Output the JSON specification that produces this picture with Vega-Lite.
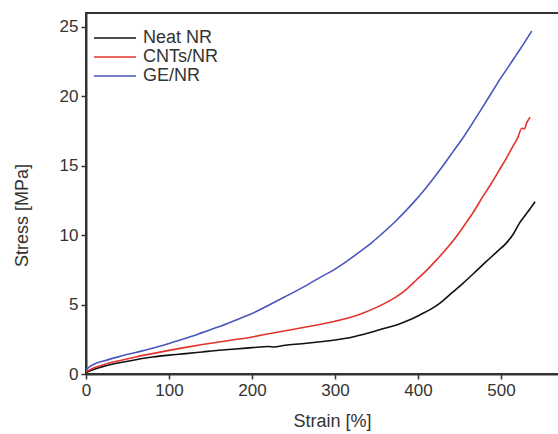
{
  "$schema": "https://vega.github.io/schema/vega-lite/v6.json",
  "width": 474,
  "height": 361,
  "autosize": {"type": "none"},
  "padding": {"left": 86, "top": 13, "right": 0, "bottom": 60},
  "background": "white",
  "config": {
    "font": "Liberation Sans",
    "view": {"stroke": "#333", "strokeWidth": 2},
    "axis": {"grid": false, "domainColor": "#333", "domainWidth": 2, "tickColor": "#333", "tickWidth": 1.5, "tickSize": 5, "labelFontSize": 17, "labelColor": "#333", "titleFontSize": 18, "titleFontWeight": "normal", "titleColor": "#333", "labelFont": "Liberation Sans", "titleFont": "Liberation Sans"}
  },
  "data": {"values": [
    {"s": "Neat NR", "x": 0, "y": 0.1},
    {"s": "Neat NR", "x": 10, "y": 0.35},
    {"s": "Neat NR", "x": 20, "y": 0.53},
    {"s": "Neat NR", "x": 40, "y": 0.81},
    {"s": "Neat NR", "x": 60, "y": 1.03},
    {"s": "Neat NR", "x": 80, "y": 1.22},
    {"s": "Neat NR", "x": 100, "y": 1.36},
    {"s": "Neat NR", "x": 120, "y": 1.47},
    {"s": "Neat NR", "x": 140, "y": 1.59},
    {"s": "Neat NR", "x": 160, "y": 1.71},
    {"s": "Neat NR", "x": 180, "y": 1.8},
    {"s": "Neat NR", "x": 200, "y": 1.9},
    {"s": "Neat NR", "x": 220, "y": 1.98},
    {"s": "Neat NR", "x": 226, "y": 1.95},
    {"s": "Neat NR", "x": 240, "y": 2.07},
    {"s": "Neat NR", "x": 260, "y": 2.18},
    {"s": "Neat NR", "x": 280, "y": 2.31},
    {"s": "Neat NR", "x": 300, "y": 2.45},
    {"s": "Neat NR", "x": 320, "y": 2.65},
    {"s": "Neat NR", "x": 340, "y": 2.95},
    {"s": "Neat NR", "x": 360, "y": 3.3},
    {"s": "Neat NR", "x": 375, "y": 3.55},
    {"s": "Neat NR", "x": 390, "y": 3.9},
    {"s": "Neat NR", "x": 402, "y": 4.25},
    {"s": "Neat NR", "x": 415, "y": 4.65},
    {"s": "Neat NR", "x": 426, "y": 5.09},
    {"s": "Neat NR", "x": 440, "y": 5.8},
    {"s": "Neat NR", "x": 454, "y": 6.53},
    {"s": "Neat NR", "x": 468, "y": 7.3},
    {"s": "Neat NR", "x": 482, "y": 8.09},
    {"s": "Neat NR", "x": 495, "y": 8.8},
    {"s": "Neat NR", "x": 506, "y": 9.41},
    {"s": "Neat NR", "x": 515, "y": 10.1},
    {"s": "Neat NR", "x": 522, "y": 10.85},
    {"s": "Neat NR", "x": 530, "y": 11.5},
    {"s": "Neat NR", "x": 535, "y": 11.9},
    {"s": "Neat NR", "x": 541, "y": 12.4},
    {"s": "CNTs/NR", "x": 0, "y": 0.15},
    {"s": "CNTs/NR", "x": 10, "y": 0.45},
    {"s": "CNTs/NR", "x": 20, "y": 0.65},
    {"s": "CNTs/NR", "x": 40, "y": 0.96},
    {"s": "CNTs/NR", "x": 60, "y": 1.23},
    {"s": "CNTs/NR", "x": 80, "y": 1.47},
    {"s": "CNTs/NR", "x": 100, "y": 1.7},
    {"s": "CNTs/NR", "x": 120, "y": 1.92},
    {"s": "CNTs/NR", "x": 140, "y": 2.12},
    {"s": "CNTs/NR", "x": 160, "y": 2.3},
    {"s": "CNTs/NR", "x": 180, "y": 2.48},
    {"s": "CNTs/NR", "x": 200, "y": 2.67},
    {"s": "CNTs/NR", "x": 220, "y": 2.9},
    {"s": "CNTs/NR", "x": 240, "y": 3.12},
    {"s": "CNTs/NR", "x": 260, "y": 3.33},
    {"s": "CNTs/NR", "x": 280, "y": 3.55},
    {"s": "CNTs/NR", "x": 300, "y": 3.8},
    {"s": "CNTs/NR", "x": 320, "y": 4.1},
    {"s": "CNTs/NR", "x": 334, "y": 4.4},
    {"s": "CNTs/NR", "x": 350, "y": 4.8},
    {"s": "CNTs/NR", "x": 365, "y": 5.25},
    {"s": "CNTs/NR", "x": 374, "y": 5.57},
    {"s": "CNTs/NR", "x": 386, "y": 6.1},
    {"s": "CNTs/NR", "x": 398, "y": 6.77},
    {"s": "CNTs/NR", "x": 410, "y": 7.45},
    {"s": "CNTs/NR", "x": 422, "y": 8.2},
    {"s": "CNTs/NR", "x": 434, "y": 9.0},
    {"s": "CNTs/NR", "x": 446, "y": 9.88},
    {"s": "CNTs/NR", "x": 458, "y": 10.9},
    {"s": "CNTs/NR", "x": 466, "y": 11.6},
    {"s": "CNTs/NR", "x": 478, "y": 12.77},
    {"s": "CNTs/NR", "x": 488, "y": 13.7},
    {"s": "CNTs/NR", "x": 498, "y": 14.7},
    {"s": "CNTs/NR", "x": 506, "y": 15.5},
    {"s": "CNTs/NR", "x": 514, "y": 16.37},
    {"s": "CNTs/NR", "x": 520, "y": 17.0},
    {"s": "CNTs/NR", "x": 525, "y": 17.7},
    {"s": "CNTs/NR", "x": 528, "y": 17.65},
    {"s": "CNTs/NR", "x": 531, "y": 18.1},
    {"s": "CNTs/NR", "x": 535, "y": 18.5},
    {"s": "GE/NR", "x": 0, "y": 0.3},
    {"s": "GE/NR", "x": 5, "y": 0.55},
    {"s": "GE/NR", "x": 12, "y": 0.77},
    {"s": "GE/NR", "x": 25, "y": 1.0},
    {"s": "GE/NR", "x": 40, "y": 1.25},
    {"s": "GE/NR", "x": 60, "y": 1.55},
    {"s": "GE/NR", "x": 80, "y": 1.85},
    {"s": "GE/NR", "x": 100, "y": 2.2},
    {"s": "GE/NR", "x": 120, "y": 2.57},
    {"s": "GE/NR", "x": 140, "y": 2.98},
    {"s": "GE/NR", "x": 160, "y": 3.4},
    {"s": "GE/NR", "x": 180, "y": 3.87},
    {"s": "GE/NR", "x": 200, "y": 4.35},
    {"s": "GE/NR", "x": 220, "y": 4.95},
    {"s": "GE/NR", "x": 240, "y": 5.57},
    {"s": "GE/NR", "x": 260, "y": 6.2},
    {"s": "GE/NR", "x": 280, "y": 6.89},
    {"s": "GE/NR", "x": 300, "y": 7.55},
    {"s": "GE/NR", "x": 316, "y": 8.2},
    {"s": "GE/NR", "x": 332, "y": 8.9},
    {"s": "GE/NR", "x": 345, "y": 9.5},
    {"s": "GE/NR", "x": 358, "y": 10.18},
    {"s": "GE/NR", "x": 372, "y": 10.95},
    {"s": "GE/NR", "x": 386, "y": 11.8},
    {"s": "GE/NR", "x": 396, "y": 12.45},
    {"s": "GE/NR", "x": 406, "y": 13.15},
    {"s": "GE/NR", "x": 418, "y": 14.05},
    {"s": "GE/NR", "x": 430, "y": 15.0},
    {"s": "GE/NR", "x": 442, "y": 16.0},
    {"s": "GE/NR", "x": 454, "y": 17.0},
    {"s": "GE/NR", "x": 466, "y": 18.1},
    {"s": "GE/NR", "x": 478, "y": 19.24},
    {"s": "GE/NR", "x": 488, "y": 20.2},
    {"s": "GE/NR", "x": 498, "y": 21.17},
    {"s": "GE/NR", "x": 508, "y": 22.05},
    {"s": "GE/NR", "x": 518, "y": 22.95},
    {"s": "GE/NR", "x": 528, "y": 23.85},
    {"s": "GE/NR", "x": 537, "y": 24.7}
  ]},
  "mark": {"type": "line", "strokeWidth": 1.6, "clip": true, "interpolate": "monotone"},
  "encoding": {
    "x": {"field": "x", "type": "quantitative", "scale": {"domain": [0, 571], "nice": false, "zero": false},
      "axis": {"values": [0, 100, 200, 300, 400, 500], "title": "Strain [%]", "labelPadding": 3, "titleX": 246, "titleY": 38, "titleBaseline": "top", "titleAnchor": "middle", "titleAlign": "center", "labelFlush": false}},
    "y": {"field": "y", "type": "quantitative", "scale": {"domain": [0, 26], "nice": false, "zero": false},
      "axis": {"values": [0, 5, 10, 15, 20, 25], "title": "Stress [MPa]", "labelPadding": 3, "titleX": -64, "titleY": 202, "titleAngle": -90, "titleBaseline": "middle", "titleAlign": "center", "labelFlush": false}},
    "color": {"field": "s", "type": "nominal",
      "scale": {"domain": ["Neat NR", "CNTs/NR", "GE/NR"], "range": ["#111111", "#e3332b", "#4a55be"]},
      "legend": {"title": null, "orient": "none", "legendX": 20, "legendY": 16, "padding": 0,
        "symbolType": "M-3,0H3", "symbolSize": 196, "symbolStrokeWidth": 1.6,
        "labelFontSize": 18, "labelColor": "#333", "labelOffset": 19, "rowPadding": 1, "labelFont": "Liberation Sans"}}
  }
}
